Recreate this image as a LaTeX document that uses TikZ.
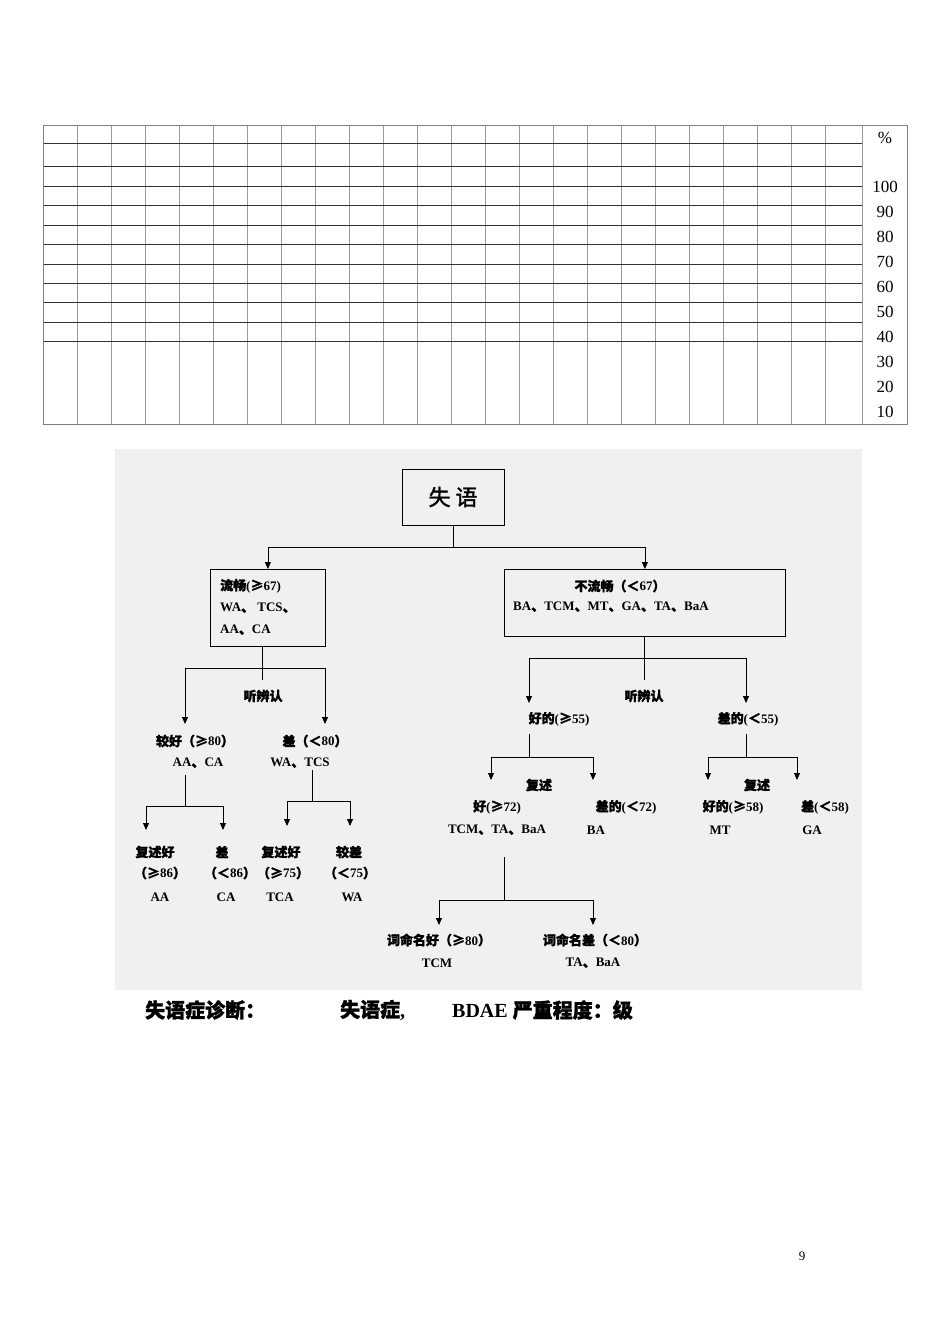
\documentclass[tikz,border=0pt]{standalone}
\usepackage{fontspec}
\setmainfont{Liberation Serif}
\newfontfamily\cjk{Noto Sans CJK SC}[FakeBold=1.5]
\newcommand{\zh}[1]{{\cjk #1}}
\usetikzlibrary{arrows.meta,positioning}
\tikzset{
  lbl/.style={inner sep=0pt, font=\fontsize{13}{15}\selectfont\bfseries},
  box/.style={draw, thick, inner sep=0pt},
  tick/.style={inner sep=0pt, font=\fontsize{17}{19}\selectfont},
  arr/.style={-{Triangle[length=7pt,width=6pt]}, thick}
}
\begin{document}
\begin{tikzpicture}[x=1pt, y=-1pt]
        \useasboundingbox (0,0) rectangle (950,1344);
        \fill[white] (0,0) rectangle (950,1344);
        % table
        \foreach \x in {43,77,...,825,862} {
          \draw[gray!80, line width=1pt] (\x,125) -- (\x,424);
        }
        \foreach \y in {125,143,166,186,205,225,244,264,283,302,322,341,424} {
          \draw[black!80, line width=0.8pt] (43,\y) -- (862,\y);
        }
        \draw[gray, line width=0.8pt] (43,125) rectangle (907,424);
        \node[tick] at (885,138) {\%};
        \foreach \v [count=\i] in {100,90,80,70,60,50,40,30,20,10} {
          \node[tick] at (885,{187+(\i-1)*25}) {\v};
        }
        % panel
        \fill[black!6] (115,449) rectangle (862,990);
        \node[box, fill=black!6, minimum width=102pt, minimum height=56pt,
          font=\fontsize{22}{24}\selectfont] (root) at (453,497) {\zh{失 语}};
        \node[box, anchor=north west, minimum width=115pt, minimum height=77pt] (flu) at (210,569) {};
        \node[box, anchor=north west, minimum width=281pt, minimum height=67pt] (nflu) at (504,569) {};
        \node[lbl, anchor=west] (f1) at (220,586) {\zh{流畅}(\zh{≥}67)};
        \node[lbl, anchor=west] (f2) at (220,608) {WA\zh{、} TCS\zh{、}};
        \node[lbl, anchor=west] (f3) at (220,630) {AA\zh{、}CA};
        \node[lbl] (n1) at (620,586) {\zh{不流畅（＜}67\zh{）}};
        \node[lbl, anchor=west] (n2) at (513,607) {BA\zh{、}TCM\zh{、}MT\zh{、}GA\zh{、}TA\zh{、}BaA};
        % root split
        \coordinate (r1) at (453,547);
        \draw[thick] (root.south) -- (r1);
        \draw[arr] (r1) -| (flu.north);
        \draw[arr] (r1) -| (nflu.north);
        % fluent branch
        \node[lbl] (lt) at (263,696) {\zh{听辨认}};
        \node[lbl] (g1) at (195,741) {\zh{较好（≥}80\zh{）}};
        \node[lbl] (g2) at (198,763) {AA\zh{、}CA};
        \node[lbl] (b1) at (315,741) {\zh{差（＜}80\zh{）}};
        \node[lbl] (b2) at (300,763) {WA\zh{、}TCS};
        \coordinate (lf) at (262,668);
        \coordinate (lfe) at (262,680);
        \coordinate (ga) at (185,724);
        \coordinate (ba) at (325,724);
        \draw[thick] (flu.south -| lf) -- (lfe);
        \draw[arr] (lf) -| (ga);
        \draw[arr] (lf) -| (ba);
        \coordinate (gs) at (185,806);
        \coordinate (bs) at (312,801);
        \draw[thick] (185,775) -- (gs);
        \draw[thick] (312,770) -- (bs);
        \coordinate (ga1) at (146,830);
        \coordinate (ga2) at (223,830);
        \coordinate (ba1) at (287,826);
        \coordinate (ba2) at (350,826);
        \draw[arr] (gs) -| (ga1);
        \draw[arr] (gs) -| (ga2);
        \draw[arr] (bs) -| (ba1);
        \draw[arr] (bs) -| (ba2);
        \node[lbl] (p1) at (155,852) {\zh{复述好}};
        \node[lbl] (p2) at (160,873) {\zh{（≥}86\zh{）}};
        \node[lbl] (p3) at (160,897) {AA};
        \node[lbl] (q1) at (222,852) {\zh{差}};
        \node[lbl] (q2) at (230,873) {\zh{（＜}86\zh{）}};
        \node[lbl] (q3) at (226,897) {CA};
        \node[lbl] (s1) at (281,852) {\zh{复述好}};
        \node[lbl] (s2) at (283,873) {\zh{（≥}75\zh{）}};
        \node[lbl] (s3) at (280,897) {TCA};
        \node[lbl] (t1) at (349,852) {\zh{较差}};
        \node[lbl] (t2) at (350,873) {\zh{（＜}75\zh{）}};
        \node[lbl] (t3) at (352,897) {WA};
        % nonfluent branch
        \node[lbl] (rt) at (644,696) {\zh{听辨认}};
        \node[lbl] (h1) at (559,719) {\zh{好的}(\zh{≥}55)};
        \node[lbl] (c1) at (748,719) {\zh{差的}(\zh{＜}55)};
        \coordinate (rf) at (644,658);
        \coordinate (rfe) at (644,680);
        \coordinate (ha) at (529,703);
        \coordinate (ca) at (746,703);
        \draw[thick] (nflu.south -| rf) -- (rfe);
        \draw[arr] (rf) -| (ha);
        \draw[arr] (rf) -| (ca);
        \coordinate (hs) at (529,757);
        \coordinate (cs) at (746,757);
        \draw[thick] (529,734) -- (hs);
        \draw[thick] (746,734) -- (cs);
        \coordinate (ha1) at (491,780);
        \coordinate (ha2) at (593,780);
        \coordinate (ca1) at (708,780);
        \coordinate (ca2) at (797,780);
        \draw[arr] (hs) -| (ha1);
        \draw[arr] (hs) -| (ha2);
        \draw[arr] (cs) -| (ca1);
        \draw[arr] (cs) -| (ca2);
        \node[lbl] (hr) at (539,785) {\zh{复述}};
        \node[lbl] (u1) at (497,807) {\zh{好}(\zh{≥}72)};
        \node[lbl] (u2) at (497,830) {TCM\zh{、}TA\zh{、}BaA};
        \node[lbl] (v1) at (626,807) {\zh{差的}(\zh{＜}72)};
        \node[lbl] (v2) at (596,830) {BA};
        \node[lbl] (cr) at (757,785) {\zh{复述}};
        \node[lbl] (w1) at (733,807) {\zh{好的}(\zh{≥}58)};
        \node[lbl] (w2) at (720,830) {MT};
        \node[lbl] (z1) at (825,807) {\zh{差}(\zh{＜}58)};
        \node[lbl] (z2) at (812,830) {GA};
        \coordinate (us) at (504,900);
        \draw[thick] (504,857) -- (us);
        \coordinate (ua1) at (439,925);
        \coordinate (ua2) at (593,925);
        \draw[arr] (us) -| (ua1);
        \draw[arr] (us) -| (ua2);
        \node[lbl] (m1) at (439,940) {\zh{词命名好（≥}80\zh{）}};
        \node[lbl] (m2) at (437,963) {TCM};
        \node[lbl] (k1) at (595,940) {\zh{词命名差（＜}80\zh{）}};
        \node[lbl] (k2) at (593,963) {TA\zh{、}BaA};
        % footer
        \node[lbl, anchor=west, font=\fontsize{20}{22}\selectfont\bfseries] (d1) at (145,1010) {\zh{失语症诊断：}};
        \node[lbl, anchor=west, font=\fontsize{20}{22}\selectfont\bfseries] (d2) at (340,1010) {\zh{失语症}, };
        \node[lbl, anchor=west, font=\fontsize{20}{22}\selectfont\bfseries] (d3) at (452,1010) {BDAE \zh{严重程度：级}};
        \node[tick, font=\fontsize{13}{15}\selectfont] (pg) at (802,1256) {9};
\end{tikzpicture}
\end{document}
